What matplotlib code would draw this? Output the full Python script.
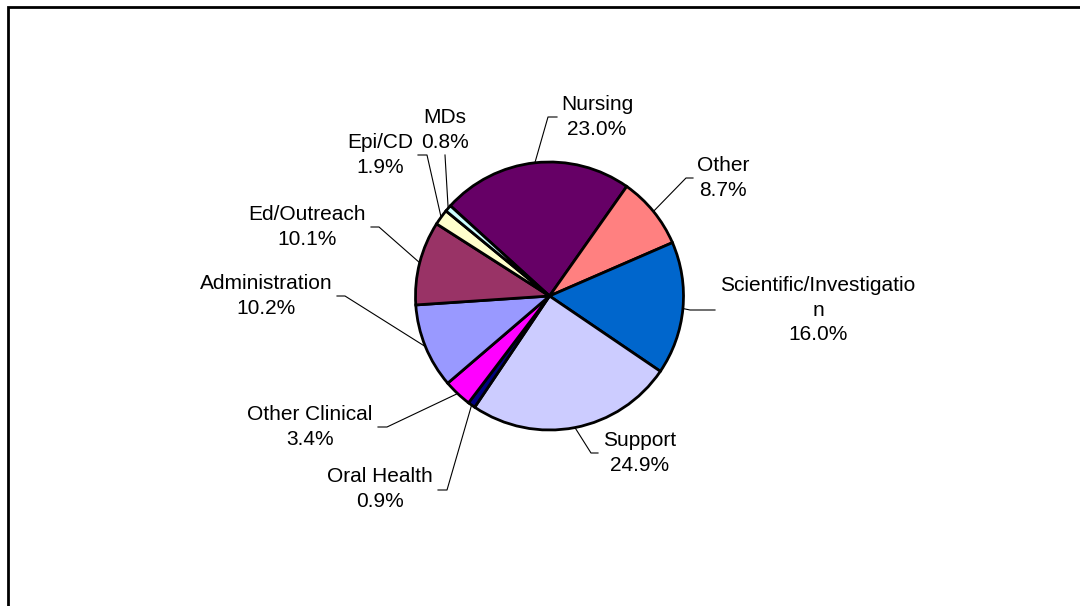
import matplotlib.pyplot as plt
import numpy as np

# staff share by category (percent)
categories = ["Nursing", "Other", "Scientific/Investigatio\nn", "Support",
              "Oral Health", "Other Clinical", "Administration",
              "Ed/Outreach", "Epi/CD", "MDs"]
shares = [23.0, 8.7, 16.0, 24.9, 0.9, 3.4, 10.2, 10.1, 1.9, 0.8]
colors = ["#660066", "#FF8080", "#0066CC", "#CCCCFF", "#000080",
          "#FF00FF", "#9999FF", "#993366", "#FFFFCC", "#CCFFFF"]

# label layout in pixels (x, y from top): text centre, leader elbow, leader end
label_xy = [(597, 117), (723, 178), (818, 310), (640, 453), (380, 489),
            (310, 427), (266, 296), (307, 227), (380, 155), (445, 130)]
elbow_xy = [(548, 117), (686, 178), (690, 310), (591, 453), (447, 490),
            (387, 427), (345, 296), (379, 227), (427, 155), (445, 155)]
tail_x = [557, 693, 715, 598, 438, 378, 337, 371, 418, 445]

W, H = 1080, 606
fig = plt.figure(figsize=(W / 100, H / 100), dpi=100)
ax = fig.add_axes([0, 0, 1, 1])

cx, cy, r = 549.5, 296, 134
wedges, _ = ax.pie(shares, colors=colors, startangle=137.7, counterclock=False,
                   radius=r, center=(cx, H - cy), frame=True,
                   wedgeprops=dict(edgecolor="black", linewidth=2.0))
for w in wedges:
    w.set_zorder(3)

ax.set_xlim(0, W)
ax.set_ylim(0, H)
ax.axis("off")

for w, cat, v, (lx, ly), (ex, ey), tx in zip(wedges, categories, shares,
                                            label_xy, elbow_xy, tail_x):
    mid = np.deg2rad((w.theta1 + w.theta2) / 2)
    sx = cx + r * np.cos(mid)
    sy = (H - cy) + r * np.sin(mid)
    ax.plot([sx, ex, tx], [sy, H - ey, H - ey], color="black", lw=0.8, zorder=2)
    ax.text(lx, H - ly, f"{cat}\n{v:.1f}%", ha="center", va="center",
            fontsize=15, family="Liberation Sans", linespacing=1.36, zorder=4)

# chart area border (open at right and bottom as in the original)
ax.plot([8, 8, W + 5], [-5, H - 7, H - 7], color="black", lw=2.0,
        solid_joinstyle="miter")

fig.savefig("out.png", dpi=100)
